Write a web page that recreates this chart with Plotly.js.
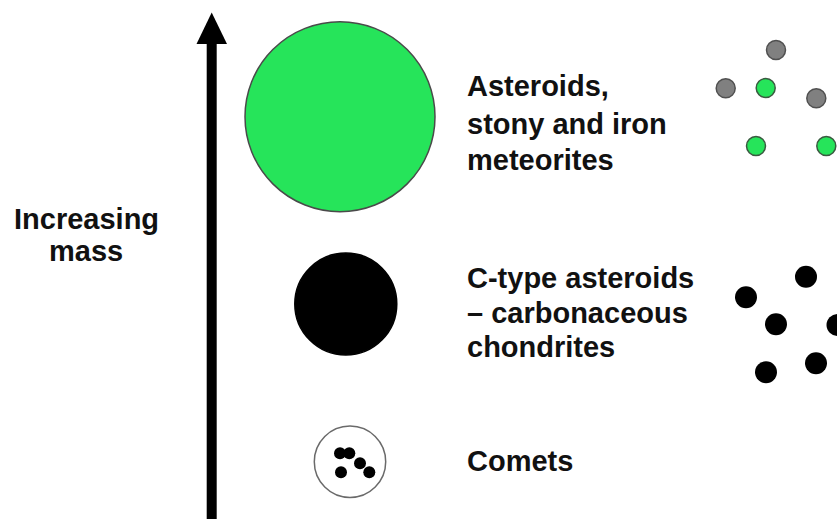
<!DOCTYPE html>
<html>
<head>
<meta charset="utf-8">
<script src="https://cdn.plot.ly/plotly-3.0.1.min.js"></script>
<style>html,body{margin:0;padding:0;background:#fff;}#chart{width:837px;height:519px;}</style>
</head>
<body>
<div id="chart"></div>
<script>
// Parent bodies (big circles): centre and radius in canvas units
const bodyNames = ["Asteroids", "C-type asteroids", "Comets"];
const bodyX = [340, 345.8, 350];
const bodyY = [116.7, 304, 461.7];
const bodyR = [95, 51, 35.7];
const bodyFill = ["#26E45A", "#000000", "#FFFFFF"];
const bodyLine = ["#4a4a4a", "#000000", "#6a6a6a"];

// Particles on the right
const stonyGrayX = [776, 725.7, 816.3];
const stonyGrayY = [50, 88.3, 98.3];
const stonyGreenX = [765.7, 756, 826.3];
const stonyGreenY = [88, 146, 146];
const carbX = [806, 746, 776, 837.5, 766, 816];
const carbY = [276.7, 297.3, 324.3, 325, 372.3, 363.3];

// Particles inside the comet
const cometX = [340, 349.3, 360, 369.3, 341];
const cometY = [453.3, 453.3, 463.3, 472.3, 472.3];

// Labels
const labelLines = [
  ["Asteroids,", 86], ["stony and iron", 123.5], ["meteorites", 159.5],
  ["C-type asteroids", 277.5], ["\u2013 carbonaceous", 312.5], ["chondrites", 346.5],
  ["Comets", 461]
];
const axisLabel = [["Increasing", 219], ["mass", 251]];

const font = {family: "Liberation Sans, Arial, sans-serif", size: 29, color: "#111"};

const traces = [
  {x: stonyGrayX, y: stonyGrayY, mode: "markers", type: "scatter", hoverinfo: "skip",
   marker: {size: 19, color: "#808080", line: {color: "#505050", width: 1.5}}},
  {x: stonyGreenX, y: stonyGreenY, mode: "markers", type: "scatter", hoverinfo: "skip",
   marker: {size: 19, color: "#26E45A", line: {color: "#3a5a40", width: 1.5}}},
  {x: carbX, y: carbY, mode: "markers", type: "scatter", hoverinfo: "skip",
   marker: {size: 22, color: "#000", line: {width: 0}}},
  {x: cometX, y: cometY, mode: "markers", type: "scatter", hoverinfo: "skip",
   marker: {size: 12, color: "#000", line: {width: 0}}}
];

const shapes = bodyX.map((cx, i) => ({
  type: "circle", xref: "x", yref: "y", layer: "below",
  x0: cx - bodyR[i], x1: cx + bodyR[i], y0: bodyY[i] - bodyR[i], y1: bodyY[i] + bodyR[i],
  fillcolor: bodyFill[i], line: {color: bodyLine[i], width: 1.5}
}));
// Arrow (shaft + head)
shapes.push({type: "line", xref: "x", yref: "y", x0: 211.7, x1: 211.7, y0: 530, y1: 40,
  line: {color: "#000", width: 10}});
shapes.push({type: "path", xref: "x", yref: "y", path: "M196.5,44 L227,44 L211.7,12.5 Z",
  fillcolor: "#000", line: {color: "#000", width: 0}});

const annotations = labelLines.map(([t, y]) => ({
  x: 465, y: y, xref: "x", yref: "y", text: "<b>" + t + "</b>", showarrow: false,
  xanchor: "left", yanchor: "middle", font: font
})).concat(axisLabel.map(([t, y]) => ({
  x: 86, y: y, xref: "x", yref: "y", text: "<b>" + t + "</b>", showarrow: false,
  xanchor: "center", yanchor: "middle", font: font
})));

const layout = {
  width: 837, height: 519, margin: {l: 0, r: 0, t: 0, b: 0, pad: 0},
  paper_bgcolor: "#fff", plot_bgcolor: "#fff", showlegend: false,
  xaxis: {range: [0, 837], visible: false, fixedrange: true},
  yaxis: {range: [519, 0], visible: false, fixedrange: true},
  shapes: shapes, annotations: annotations
};

Plotly.newPlot("chart", traces, layout, {displayModeBar: false, staticPlot: true});
</script>
</body>
</html>
